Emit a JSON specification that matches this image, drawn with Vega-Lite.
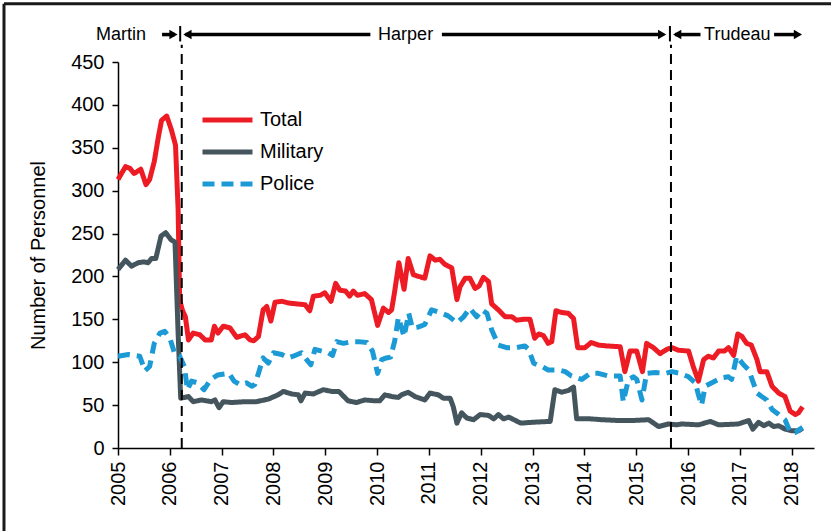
{
"$schema": "https://vega.github.io/schema/vega-lite/v6.json",
"width": 696, "height": 386,
"autosize": "none",
"padding": {"left": 118, "top": 62, "right": 17, "bottom": 83},
"background": "white",
"config": {
  "view": {"stroke": null},
  "font": "Liberation Sans",
  "legend": {"orient": "none", "legendX": 82, "legendY": 47, "symbolType": "stroke", "symbolSize": 2500, "symbolStrokeWidth": 5, "labelFontSize": 20, "labelColor": "black", "clipHeight": 22, "rowPadding": 10, "padding": 0, "labelOffset": 5, "title": null}
},
"datasets": {
"one": [{}],
"main": [
{"t":2005.00,"s":"Total","v":313},{"t":2005.145,"s":"Total","v":328},{"t":2005.23,"s":"Total","v":326},{"t":2005.31,"s":"Total","v":320},{"t":2005.44,"s":"Total","v":325},{"t":2005.54,"s":"Total","v":307},{"t":2005.61,"s":"Total","v":313},{"t":2005.70,"s":"Total","v":334},{"t":2005.78,"s":"Total","v":363},{"t":2005.84,"s":"Total","v":382},{"t":2005.94,"s":"Total","v":387},{"t":2006.03,"s":"Total","v":371},{"t":2006.11,"s":"Total","v":353},{"t":2006.16,"s":"Total","v":278},{"t":2006.19,"s":"Total","v":173},{"t":2006.24,"s":"Total","v":161},{"t":2006.30,"s":"Total","v":153},{"t":2006.36,"s":"Total","v":126},{"t":2006.45,"s":"Total","v":134},{"t":2006.58,"s":"Total","v":132},{"t":2006.68,"s":"Total","v":126},{"t":2006.80,"s":"Total","v":126},{"t":2006.86,"s":"Total","v":142},{"t":2006.93,"s":"Total","v":134},{"t":2007.03,"s":"Total","v":142},{"t":2007.16,"s":"Total","v":140},{"t":2007.29,"s":"Total","v":129},{"t":2007.45,"s":"Total","v":132},{"t":2007.55,"s":"Total","v":126},{"t":2007.62,"s":"Total","v":125},{"t":2007.71,"s":"Total","v":130},{"t":2007.80,"s":"Total","v":161},{"t":2007.87,"s":"Total","v":165},{"t":2007.95,"s":"Total","v":148},{"t":2008.03,"s":"Total","v":170},{"t":2008.16,"s":"Total","v":171},{"t":2008.29,"s":"Total","v":169},{"t":2008.45,"s":"Total","v":168},{"t":2008.61,"s":"Total","v":167},{"t":2008.70,"s":"Total","v":160},{"t":2008.77,"s":"Total","v":177},{"t":2008.90,"s":"Total","v":178},{"t":2008.99,"s":"Total","v":181},{"t":2009.11,"s":"Total","v":171},{"t":2009.20,"s":"Total","v":192},{"t":2009.28,"s":"Total","v":184},{"t":2009.39,"s":"Total","v":183},{"t":2009.47,"s":"Total","v":177},{"t":2009.54,"s":"Total","v":183},{"t":2009.62,"s":"Total","v":178},{"t":2009.76,"s":"Total","v":180},{"t":2009.89,"s":"Total","v":173},{"t":2010.01,"s":"Total","v":143},{"t":2010.12,"s":"Total","v":163},{"t":2010.22,"s":"Total","v":158},{"t":2010.28,"s":"Total","v":161},{"t":2010.34,"s":"Total","v":183},{"t":2010.42,"s":"Total","v":216},{"t":2010.52,"s":"Total","v":185},{"t":2010.60,"s":"Total","v":221},{"t":2010.70,"s":"Total","v":202},{"t":2010.80,"s":"Total","v":200},{"t":2010.92,"s":"Total","v":198},{"t":2011.02,"s":"Total","v":224},{"t":2011.12,"s":"Total","v":219},{"t":2011.21,"s":"Total","v":220},{"t":2011.31,"s":"Total","v":214},{"t":2011.44,"s":"Total","v":210},{"t":2011.54,"s":"Total","v":173},{"t":2011.60,"s":"Total","v":188},{"t":2011.70,"s":"Total","v":198},{"t":2011.79,"s":"Total","v":198},{"t":2011.89,"s":"Total","v":186},{"t":2011.97,"s":"Total","v":189},{"t":2012.05,"s":"Total","v":199},{"t":2012.15,"s":"Total","v":194},{"t":2012.21,"s":"Total","v":168},{"t":2012.34,"s":"Total","v":161},{"t":2012.47,"s":"Total","v":153},{"t":2012.60,"s":"Total","v":153},{"t":2012.69,"s":"Total","v":149},{"t":2012.82,"s":"Total","v":150},{"t":2012.95,"s":"Total","v":150},{"t":2013.04,"s":"Total","v":128},{"t":2013.12,"s":"Total","v":133},{"t":2013.21,"s":"Total","v":131},{"t":2013.30,"s":"Total","v":122},{"t":2013.37,"s":"Total","v":124},{"t":2013.45,"s":"Total","v":160},{"t":2013.56,"s":"Total","v":158},{"t":2013.69,"s":"Total","v":157},{"t":2013.79,"s":"Total","v":151},{"t":2013.87,"s":"Total","v":117},{"t":2014.01,"s":"Total","v":117},{"t":2014.13,"s":"Total","v":123},{"t":2014.27,"s":"Total","v":120},{"t":2014.43,"s":"Total","v":119},{"t":2014.69,"s":"Total","v":118},{"t":2014.78,"s":"Total","v":89},{"t":2014.88,"s":"Total","v":113},{"t":2015.01,"s":"Total","v":113},{"t":2015.12,"s":"Total","v":89},{"t":2015.20,"s":"Total","v":122},{"t":2015.33,"s":"Total","v":117},{"t":2015.46,"s":"Total","v":110},{"t":2015.59,"s":"Total","v":115},{"t":2015.69,"s":"Total","v":117},{"t":2015.81,"s":"Total","v":114},{"t":2016.01,"s":"Total","v":113},{"t":2016.10,"s":"Total","v":95},{"t":2016.20,"s":"Total","v":78},{"t":2016.30,"s":"Total","v":103},{"t":2016.39,"s":"Total","v":107},{"t":2016.49,"s":"Total","v":105},{"t":2016.59,"s":"Total","v":113},{"t":2016.70,"s":"Total","v":113},{"t":2016.78,"s":"Total","v":117},{"t":2016.88,"s":"Total","v":108},{"t":2016.96,"s":"Total","v":133},{"t":2017.04,"s":"Total","v":130},{"t":2017.13,"s":"Total","v":122},{"t":2017.22,"s":"Total","v":120},{"t":2017.33,"s":"Total","v":103},{"t":2017.39,"s":"Total","v":89},{"t":2017.52,"s":"Total","v":89},{"t":2017.62,"s":"Total","v":72},{"t":2017.75,"s":"Total","v":64},{"t":2017.87,"s":"Total","v":60},{"t":2017.97,"s":"Total","v":43},{"t":2018.07,"s":"Total","v":39},{"t":2018.13,"s":"Total","v":41},{"t":2018.21,"s":"Total","v":48},
{"t":2005.00,"s":"Military","v":208},{"t":2005.145,"s":"Military","v":219},{"t":2005.26,"s":"Military","v":212},{"t":2005.39,"s":"Military","v":216},{"t":2005.50,"s":"Military","v":217},{"t":2005.58,"s":"Military","v":216},{"t":2005.65,"s":"Military","v":221},{"t":2005.73,"s":"Military","v":221},{"t":2005.83,"s":"Military","v":247},{"t":2005.92,"s":"Military","v":251},{"t":2006.02,"s":"Military","v":243},{"t":2006.10,"s":"Military","v":240},{"t":2006.16,"s":"Military","v":134},{"t":2006.21,"s":"Military","v":58},{"t":2006.36,"s":"Military","v":60},{"t":2006.45,"s":"Military","v":54},{"t":2006.61,"s":"Military","v":56},{"t":2006.80,"s":"Military","v":54},{"t":2006.87,"s":"Military","v":56},{"t":2006.95,"s":"Military","v":47},{"t":2007.03,"s":"Military","v":54},{"t":2007.19,"s":"Military","v":53},{"t":2007.45,"s":"Military","v":54},{"t":2007.67,"s":"Military","v":54},{"t":2007.90,"s":"Military","v":57},{"t":2008.09,"s":"Military","v":62},{"t":2008.19,"s":"Military","v":66},{"t":2008.35,"s":"Military","v":63},{"t":2008.48,"s":"Military","v":62},{"t":2008.53,"s":"Military","v":55},{"t":2008.61,"s":"Military","v":64},{"t":2008.77,"s":"Military","v":63},{"t":2008.96,"s":"Military","v":68},{"t":2009.12,"s":"Military","v":66},{"t":2009.26,"s":"Military","v":66},{"t":2009.44,"s":"Military","v":55},{"t":2009.60,"s":"Military","v":53},{"t":2009.76,"s":"Military","v":56},{"t":2009.96,"s":"Military","v":55},{"t":2010.05,"s":"Military","v":55},{"t":2010.15,"s":"Military","v":62},{"t":2010.28,"s":"Military","v":60},{"t":2010.41,"s":"Military","v":59},{"t":2010.47,"s":"Military","v":62},{"t":2010.60,"s":"Military","v":65},{"t":2010.73,"s":"Military","v":60},{"t":2010.92,"s":"Military","v":56},{"t":2011.02,"s":"Military","v":64},{"t":2011.18,"s":"Military","v":62},{"t":2011.28,"s":"Military","v":58},{"t":2011.41,"s":"Military","v":58},{"t":2011.47,"s":"Military","v":48},{"t":2011.54,"s":"Military","v":29},{"t":2011.63,"s":"Military","v":41},{"t":2011.73,"s":"Military","v":35},{"t":2011.86,"s":"Military","v":33},{"t":2011.99,"s":"Military","v":39},{"t":2012.15,"s":"Military","v":38},{"t":2012.25,"s":"Military","v":34},{"t":2012.34,"s":"Military","v":39},{"t":2012.44,"s":"Military","v":34},{"t":2012.54,"s":"Military","v":36},{"t":2012.77,"s":"Military","v":29},{"t":2013.00,"s":"Military","v":30},{"t":2013.34,"s":"Military","v":31},{"t":2013.43,"s":"Military","v":68},{"t":2013.56,"s":"Military","v":65},{"t":2013.69,"s":"Military","v":67},{"t":2013.79,"s":"Military","v":71},{"t":2013.85,"s":"Military","v":34},{"t":2014.11,"s":"Military","v":34},{"t":2014.33,"s":"Military","v":33},{"t":2014.66,"s":"Military","v":32},{"t":2014.91,"s":"Military","v":32},{"t":2015.24,"s":"Military","v":33},{"t":2015.43,"s":"Military","v":25},{"t":2015.62,"s":"Military","v":28},{"t":2015.78,"s":"Military","v":27},{"t":2015.88,"s":"Military","v":28},{"t":2016.20,"s":"Military","v":27},{"t":2016.43,"s":"Military","v":31},{"t":2016.59,"s":"Military","v":27},{"t":2016.97,"s":"Military","v":28},{"t":2017.17,"s":"Military","v":32},{"t":2017.25,"s":"Military","v":22},{"t":2017.36,"s":"Military","v":30},{"t":2017.46,"s":"Military","v":26},{"t":2017.56,"s":"Military","v":29},{"t":2017.65,"s":"Military","v":25},{"t":2017.75,"s":"Military","v":26},{"t":2017.87,"s":"Military","v":22},{"t":2018.00,"s":"Military","v":20},{"t":2018.13,"s":"Military","v":20},{"t":2018.21,"s":"Military","v":23},
{"t":2005.00,"s":"Police","v":107},{"t":2005.20,"s":"Police","v":109},{"t":2005.42,"s":"Police","v":107},{"t":2005.52,"s":"Police","v":90},{"t":2005.61,"s":"Police","v":95},{"t":2005.70,"s":"Police","v":122},{"t":2005.81,"s":"Police","v":134},{"t":2005.90,"s":"Police","v":136},{"t":2006.00,"s":"Police","v":128},{"t":2006.10,"s":"Police","v":109},{"t":2006.19,"s":"Police","v":107},{"t":2006.28,"s":"Police","v":95},{"t":2006.34,"s":"Police","v":68},{"t":2006.42,"s":"Police","v":78},{"t":2006.53,"s":"Police","v":76},{"t":2006.66,"s":"Police","v":68},{"t":2006.79,"s":"Police","v":80},{"t":2006.92,"s":"Police","v":85},{"t":2007.14,"s":"Police","v":87},{"t":2007.24,"s":"Police","v":78},{"t":2007.35,"s":"Police","v":74},{"t":2007.48,"s":"Police","v":76},{"t":2007.58,"s":"Police","v":72},{"t":2007.64,"s":"Police","v":74},{"t":2007.71,"s":"Police","v":87},{"t":2007.80,"s":"Police","v":105},{"t":2007.90,"s":"Police","v":99},{"t":2008.00,"s":"Police","v":111},{"t":2008.16,"s":"Police","v":109},{"t":2008.29,"s":"Police","v":105},{"t":2008.38,"s":"Police","v":107},{"t":2008.54,"s":"Police","v":111},{"t":2008.64,"s":"Police","v":103},{"t":2008.72,"s":"Police","v":97},{"t":2008.80,"s":"Police","v":115},{"t":2008.93,"s":"Police","v":113},{"t":2009.06,"s":"Police","v":111},{"t":2009.14,"s":"Police","v":108},{"t":2009.22,"s":"Police","v":124},{"t":2009.35,"s":"Police","v":122},{"t":2009.51,"s":"Police","v":124},{"t":2009.64,"s":"Police","v":124},{"t":2009.80,"s":"Police","v":123},{"t":2009.91,"s":"Police","v":113},{"t":2010.01,"s":"Police","v":87},{"t":2010.09,"s":"Police","v":103},{"t":2010.18,"s":"Police","v":105},{"t":2010.26,"s":"Police","v":106},{"t":2010.34,"s":"Police","v":125},{"t":2010.41,"s":"Police","v":152},{"t":2010.52,"s":"Police","v":130},{"t":2010.61,"s":"Police","v":157},{"t":2010.68,"s":"Police","v":140},{"t":2010.80,"s":"Police","v":141},{"t":2010.92,"s":"Police","v":144},{"t":2011.05,"s":"Police","v":161},{"t":2011.21,"s":"Police","v":158},{"t":2011.37,"s":"Police","v":154},{"t":2011.54,"s":"Police","v":146},{"t":2011.67,"s":"Police","v":153},{"t":2011.79,"s":"Police","v":163},{"t":2011.92,"s":"Police","v":153},{"t":2012.02,"s":"Police","v":161},{"t":2012.12,"s":"Police","v":157},{"t":2012.21,"s":"Police","v":138},{"t":2012.34,"s":"Police","v":120},{"t":2012.50,"s":"Police","v":117},{"t":2012.69,"s":"Police","v":117},{"t":2012.85,"s":"Police","v":119},{"t":2012.92,"s":"Police","v":115},{"t":2013.02,"s":"Police","v":99},{"t":2013.18,"s":"Police","v":95},{"t":2013.30,"s":"Police","v":91},{"t":2013.50,"s":"Police","v":91},{"t":2013.63,"s":"Police","v":89},{"t":2013.75,"s":"Police","v":84},{"t":2013.95,"s":"Police","v":80},{"t":2014.11,"s":"Police","v":87},{"t":2014.27,"s":"Police","v":87},{"t":2014.46,"s":"Police","v":84},{"t":2014.69,"s":"Police","v":84},{"t":2014.75,"s":"Police","v":54},{"t":2014.85,"s":"Police","v":80},{"t":2014.95,"s":"Police","v":83},{"t":2015.01,"s":"Police","v":80},{"t":2015.11,"s":"Police","v":56},{"t":2015.20,"s":"Police","v":87},{"t":2015.37,"s":"Police","v":88},{"t":2015.56,"s":"Police","v":87},{"t":2015.69,"s":"Police","v":89},{"t":2015.85,"s":"Police","v":87},{"t":2016.01,"s":"Police","v":83},{"t":2016.14,"s":"Police","v":76},{"t":2016.20,"s":"Police","v":62},{"t":2016.26,"s":"Police","v":50},{"t":2016.33,"s":"Police","v":72},{"t":2016.46,"s":"Police","v":76},{"t":2016.65,"s":"Police","v":82},{"t":2016.78,"s":"Police","v":83},{"t":2016.84,"s":"Police","v":80},{"t":2016.94,"s":"Police","v":107},{"t":2017.07,"s":"Police","v":97},{"t":2017.17,"s":"Police","v":91},{"t":2017.33,"s":"Police","v":64},{"t":2017.42,"s":"Police","v":60},{"t":2017.52,"s":"Police","v":56},{"t":2017.62,"s":"Police","v":45},{"t":2017.75,"s":"Police","v":39},{"t":2017.87,"s":"Police","v":33},{"t":2017.97,"s":"Police","v":19},{"t":2018.07,"s":"Police","v":18},{"t":2018.16,"s":"Police","v":22},{"t":2018.21,"s":"Police","v":24}
]
},
"layer": [
{
  "data": {"name": "main"},
  "mark": {"type": "line", "strokeWidth": 5, "strokeJoin": "round", "strokeCap": "butt", "clip": false},
  "encoding": {
    "x": {"field": "t", "type": "quantitative",
      "scale": {"domain": [2005, 2018.43], "nice": false, "zero": false},
      "axis": {"values": [2005,2006,2007,2008,2009,2010,2011,2012,2013,2014,2015,2016,2017,2018], "format": "d", "labelAngle": -90, "labelAlign": "right", "labelBaseline": "middle", "labelFontSize": 20, "labelColor": "black", "labelPadding": 6, "tickColor": "black", "tickSize": 7, "tickWidth": 1.5, "domainColor": "black", "domainWidth": 1.5, "grid": false, "title": null, "labelFlush": false, "labelOverlap": false}},
    "y": {"field": "v", "type": "quantitative",
      "scale": {"domain": [0, 450], "nice": false},
      "axis": {"values": [0,50,100,150,200,250,300,350,400,450], "labelFontSize": 20, "labelColor": "black", "labelPadding": 8, "tickColor": "black", "tickSize": 6, "tickWidth": 1.5, "domainColor": "black", "domainWidth": 1.5, "grid": false, "title": "Number of Personnel", "titleFontSize": 20, "titleFontWeight": "normal", "titleColor": "black", "titlePadding": 22, "labelFlush": false}},
    "color": {"field": "s", "type": "nominal", "title": null,
      "scale": {"domain": ["Total", "Military", "Police"], "range": ["#ed1c24", "#44555d", "#1b9ad6"]}},
    "strokeDash": {"field": "s", "type": "nominal", "title": null,
      "scale": {"domain": ["Total", "Military", "Police"], "range": [[1,0],[1,0],[12,7]]}}
  }
},
{"data": {"name": "one"}, "mark": {"type": "rule", "color": "black", "strokeWidth": 2, "strokeDash": [10,6]}, "encoding": {"x": {"datum": 2006.23}, "y": {"datum": 0}, "y2": {"datum": 470}}},
{"data": {"name": "one"}, "mark": {"type": "rule", "color": "black", "strokeWidth": 2, "strokeDash": [10,6]}, "encoding": {"x": {"datum": 2015.67}, "y": {"datum": 0}, "y2": {"datum": 470}}},
{"data": {"name": "one"}, "mark": {"type": "rule", "color": "black", "strokeWidth": 2}, "encoding": {"x": {"datum": 2006.2}, "y": {"datum": 474}, "y2": {"datum": 492}}},
{"data": {"name": "one"}, "mark": {"type": "rule", "color": "black", "strokeWidth": 2}, "encoding": {"x": {"datum": 2015.65}, "y": {"datum": 474}, "y2": {"datum": 492}}},
{"data": {"name": "one"}, "mark": {"type": "rule", "color": "black", "strokeWidth": 3.5}, "encoding": {"x": {"datum": 2005.85}, "x2": {"datum": 2006.1}, "y": {"datum": 482}}},
{"data": {"name": "one"}, "mark": {"type": "rule", "color": "black", "strokeWidth": 3.5}, "encoding": {"x": {"datum": 2006.3}, "x2": {"datum": 2009.87}, "y": {"datum": 482}}},
{"data": {"name": "one"}, "mark": {"type": "rule", "color": "black", "strokeWidth": 3.5}, "encoding": {"x": {"datum": 2011.25}, "x2": {"datum": 2015.5}, "y": {"datum": 482}}},
{"data": {"name": "one"}, "mark": {"type": "rule", "color": "black", "strokeWidth": 3.5}, "encoding": {"x": {"datum": 2015.75}, "x2": {"datum": 2016.24}, "y": {"datum": 482}}},
{"data": {"name": "one"}, "mark": {"type": "rule", "color": "black", "strokeWidth": 3.5}, "encoding": {"x": {"datum": 2017.66}, "x2": {"datum": 2018.1}, "y": {"datum": 482}}},
{"data": {"name": "one"}, "mark": {"type": "point", "shape": "triangle-right", "filled": true, "color": "black", "size": 90, "opacity": 1}, "encoding": {"x": {"datum": 2006.07}, "y": {"datum": 482}}},
{"data": {"name": "one"}, "mark": {"type": "point", "shape": "triangle-left", "filled": true, "color": "black", "size": 90, "opacity": 1}, "encoding": {"x": {"datum": 2006.34}, "y": {"datum": 482}}},
{"data": {"name": "one"}, "mark": {"type": "point", "shape": "triangle-right", "filled": true, "color": "black", "size": 90, "opacity": 1}, "encoding": {"x": {"datum": 2015.5}, "y": {"datum": 482}}},
{"data": {"name": "one"}, "mark": {"type": "point", "shape": "triangle-left", "filled": true, "color": "black", "size": 90, "opacity": 1}, "encoding": {"x": {"datum": 2015.79}, "y": {"datum": 482}}},
{"data": {"name": "one"}, "mark": {"type": "point", "shape": "triangle-right", "filled": true, "color": "black", "size": 90, "opacity": 1}, "encoding": {"x": {"datum": 2018.12}, "y": {"datum": 482}}},
{"data": {"name": "one"}, "mark": {"type": "text", "fontSize": 18, "color": "black", "align": "center", "baseline": "middle"}, "encoding": {"x": {"datum": 2005.06}, "y": {"datum": 482}, "text": {"value": "Martin"}}},
{"data": {"name": "one"}, "mark": {"type": "text", "fontSize": 18, "color": "black", "align": "center", "baseline": "middle"}, "encoding": {"x": {"datum": 2010.55}, "y": {"datum": 482}, "text": {"value": "Harper"}}},
{"data": {"name": "one"}, "mark": {"type": "text", "fontSize": 18, "color": "black", "align": "center", "baseline": "middle"}, "encoding": {"x": {"datum": 2016.95}, "y": {"datum": 482}, "text": {"value": "Trudeau"}}},
{"data": {"name": "one"}, "mark": {"type": "rule", "color": "#1a1a1a", "strokeWidth": 3}, "encoding": {"x": {"datum": 2002.8}, "x2": {"datum": 2019.5}, "y": {"datum": 518}}},
{"data": {"name": "one"}, "mark": {"type": "rule", "color": "#1a1a1a", "strokeWidth": 3}, "encoding": {"x": {"datum": 2002.8}, "y": {"datum": 518}, "y2": {"datum": -100}}}
]
}
